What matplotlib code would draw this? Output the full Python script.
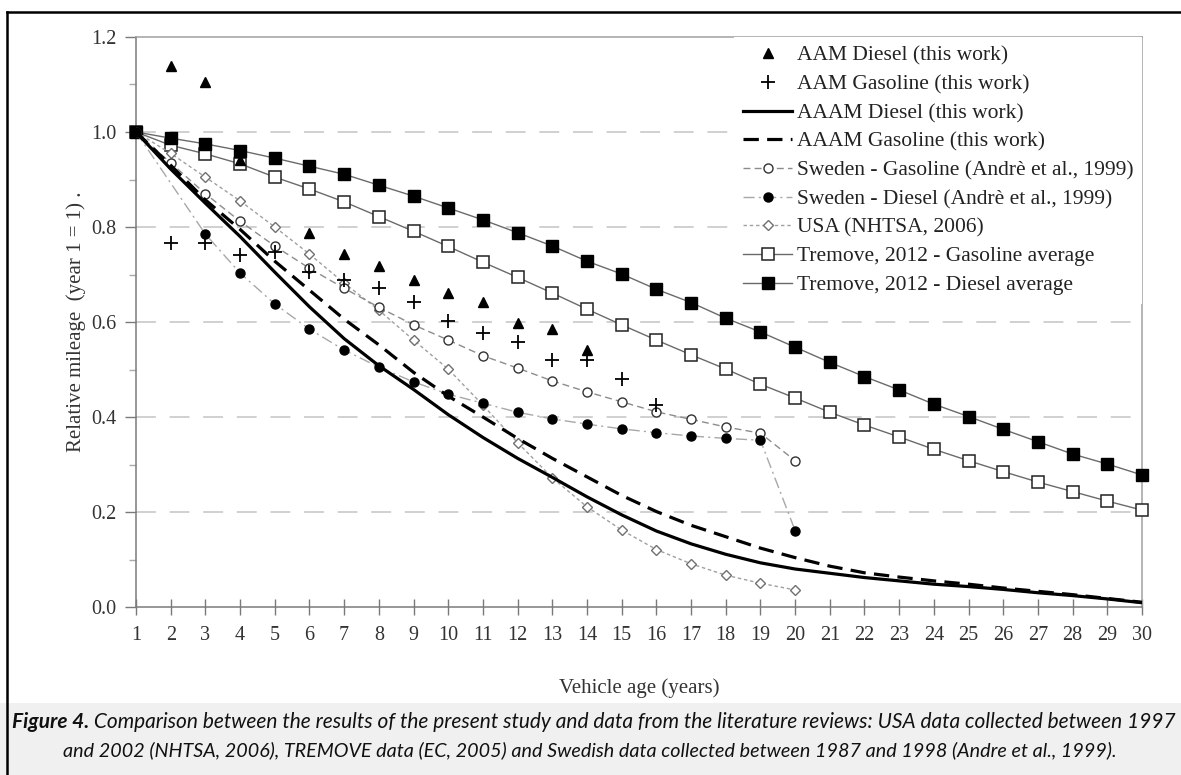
import numpy as np
import matplotlib.pyplot as plt
from matplotlib.lines import Line2D
from matplotlib.patches import Rectangle

# relative mileage (year 1 = 1) read per vehicle age
years = list(range(1, 31))

aam_diesel_x = [2, 3, 4, 6, 7, 8, 9, 10, 11, 12, 13, 14]
aam_diesel_y = [1.140, 1.105, 0.941, 0.787, 0.744, 0.717, 0.688, 0.661, 0.642, 0.598, 0.585, 0.541]

aam_gas_x = [2, 3, 4, 5, 6, 7, 8, 9, 10, 11, 12, 13, 14, 15, 16]
aam_gas_y = [0.766, 0.766, 0.741, 0.747, 0.705, 0.688, 0.671, 0.643, 0.602, 0.577, 0.558, 0.520, 0.520, 0.480, 0.425]

aaam_diesel = [1.0, 0.922, 0.850, 0.780, 0.705, 0.632, 0.565, 0.508, 0.458, 0.405,
               0.357, 0.313, 0.273, 0.232, 0.194, 0.160, 0.133, 0.111, 0.093, 0.080,
               0.071, 0.062, 0.055, 0.048, 0.043, 0.037, 0.030, 0.024, 0.017, 0.009]
aaam_gas = [1.0, 0.930, 0.857, 0.795, 0.728, 0.667, 0.606, 0.552, 0.494, 0.444,
            0.400, 0.355, 0.313, 0.274, 0.235, 0.201, 0.172, 0.148, 0.124, 0.104,
            0.086, 0.072, 0.063, 0.055, 0.048, 0.040, 0.033, 0.026, 0.018, 0.010]

sw_gas_x = list(range(1, 21))
sw_gas_y = [1.0, 0.935, 0.870, 0.812, 0.760, 0.713, 0.671, 0.631, 0.594, 0.562,
            0.529, 0.503, 0.476, 0.453, 0.432, 0.411, 0.395, 0.379, 0.366, 0.308]

sw_dsl_x = [1] + list(range(3, 21))
sw_dsl_y = [1.0, 0.785, 0.703, 0.638, 0.585, 0.541, 0.505, 0.474, 0.448, 0.429,
            0.410, 0.396, 0.385, 0.375, 0.367, 0.360, 0.355, 0.351, 0.161]

usa_x = list(range(1, 21))
usa_y = [1.0, 0.955, 0.905, 0.855, 0.800, 0.743, 0.682, 0.625, 0.562, 0.501,
         0.425, 0.346, 0.272, 0.211, 0.162, 0.121, 0.091, 0.067, 0.050, 0.036]

tre_gas = [1.0, 0.972, 0.954, 0.933, 0.905, 0.880, 0.853, 0.822, 0.791, 0.759,
           0.726, 0.694, 0.661, 0.627, 0.594, 0.562, 0.531, 0.501, 0.469, 0.440,
           0.410, 0.383, 0.358, 0.332, 0.308, 0.285, 0.263, 0.243, 0.223, 0.204]
tre_dsl = [1.0, 0.987, 0.975, 0.961, 0.945, 0.928, 0.911, 0.888, 0.865, 0.840,
           0.815, 0.788, 0.760, 0.728, 0.701, 0.669, 0.641, 0.608, 0.579, 0.547,
           0.515, 0.485, 0.457, 0.427, 0.401, 0.374, 0.348, 0.322, 0.301, 0.278]

labels = ["AAM Diesel (this work)", "AAM Gasoline (this work)",
          "AAAM Diesel (this work)", "AAAM Gasoline (this work)",
          "Sweden - Gasoline (Andrè et al., 1999)", "Sweden - Diesel (Andrè et al., 1999)",
          "USA (NHTSA, 2006)", "Tremove, 2012 - Gasoline average",
          "Tremove, 2012 - Diesel average"]

caption_bold = "Figure 4."
caption_1 = (" Comparison between the results of the present study and data from the "
             "literature reviews: USA data collected between 1997")
caption_2 = ("and 2002 (NHTSA, 2006), TREMOVE data (EC, 2005) and Swedish data collected "
             "between 1987 and 1998 (Andre et al., 1999).")

plt.rcParams['font.family'] = ['Liberation Serif', 'DejaVu Serif']
W, H = 1181, 775
fig = plt.figure(figsize=(W / 100, H / 100), dpi=100)

# caption band and outer frame
fig.patches.append(Rectangle((0, 0), 1, 72 / H, transform=fig.transFigure,
                             facecolor='#f0f0f0', edgecolor='none', zorder=0))
fig.add_artist(Line2D([7 / W, 7 / W], [0, 1 - 12 / H], color='black', lw=1.8, zorder=10))
fig.add_artist(Line2D([7 / W, 1], [1 - 12 / H, 1 - 12 / H], color='black', lw=1.8, zorder=10))

ax = fig.add_axes([136 / W, 168 / H, 1006 / W, 570 / H])
grey = '#7a7a7a'
for y in [0.2, 0.4, 0.6, 0.8, 1.0]:
    ax.axhline(y, color='#c4c4c4', lw=1.1, ls=(0, (13, 9)), zorder=0)

ax.plot(years, tre_gas, color='#6a6a6a', lw=1.0, marker='s', ms=8, mfc='white',
        mec='#222222', mew=1.1, clip_on=False, zorder=3, label=labels[7])
ax.plot(years, tre_dsl, color='#6a6a6a', lw=1.0, marker='s', ms=8, mfc='black',
        mec='black', clip_on=False, zorder=3, label=labels[8])
ax.plot(usa_x, usa_y, color='#a0a0a0', lw=1.0, ls=(0, (2.5, 2)), marker='D', ms=5,
        mfc='white', mec='#707070', mew=1.0, zorder=4, label=labels[6])
ax.plot(sw_gas_x, sw_gas_y, color='#8c8c8c', lw=1.0, ls=(0, (5, 3)), marker='o', ms=6.5,
        mfc='white', mec='#333333', mew=1.0, zorder=4, label=labels[4])
ax.plot(sw_dsl_x, sw_dsl_y, color='#a8a8a8', lw=1.0, ls=(0, (8, 3, 1.5, 3)), marker='o',
        ms=6.5, mfc='black', mec='black', zorder=4, label=labels[5])
ax.plot(years, aaam_diesel, color='black', lw=2.3, zorder=5, label=labels[2])
ax.plot(years, aaam_gas, color='black', lw=2.3, ls=(0, (4.8, 2.6)), zorder=5, label=labels[3])
ax.plot(aam_diesel_x, aam_diesel_y, ls='none', marker='^', ms=6.5, color='black',
        zorder=6, label=labels[0])
ax.plot(aam_gas_x, aam_gas_y, ls='none', marker='+', ms=10, mew=1.3, color='black',
        zorder=6, label=labels[1])

ax.set_xlim(1, 30)
ax.set_ylim(0, 1.2)
ax.set_xticks(years)
ax.set_yticks(np.arange(0, 1.21, 0.2))
ax.set_yticks(np.arange(0.1, 1.2, 0.2), minor=True)
ax.yaxis.set_major_formatter(plt.FormatStrFormatter('%.1f'))
ax.tick_params(axis='x', direction='inout', length=11, width=1.0, color=grey,
               labelsize=14.5, labelcolor='#333333', pad=8)
ax.tick_params(axis='y', which='major', direction='out', length=8, width=1.0, color=grey,
               labelsize=14.5, labelcolor='#333333', pad=6)
ax.tick_params(axis='y', which='minor', direction='out', length=5, width=1.0, color='#aaaaaa')
for s in ax.spines.values():
    s.set_color(grey)
    s.set_linewidth(1.1)
ax.spines['top'].set_color('#a0a0a0')
ax.spines['right'].set_color('#a0a0a0')

ax.set_xlabel("Vehicle age (years)", fontsize=15, color='#333333', labelpad=24)
ax.set_ylabel("Relative mileage  (year 1 = 1) .", fontsize=15, color='#333333', labelpad=4)

h, l = ax.get_legend_handles_labels()
by_label = dict(zip(l, h))
leg = ax.legend([by_label[x] for x in labels], labels, loc='upper right',
                bbox_to_anchor=(1, 1), borderaxespad=0, frameon=True, fancybox=False,
                framealpha=1, edgecolor='none', fontsize=15.5, handlelength=2.3,
                handletextpad=0.2, labelspacing=0.40, borderpad=0.4)
leg.set_zorder(7)
for t in leg.get_texts():
    t.set_color('#222222')

# caption: bold lead-in followed by italic text; each line sized to its width
cap_font = ['Lato', 'DejaVu Sans']
fig.canvas.draw()
r = fig.canvas.get_renderer()
t2 = fig.text(590 / W, 1 - 750 / H, caption_2, fontsize=14, family=cap_font,
              style='italic', ha='center', va='center', color='#111111')
t2.set_fontsize(14 * 1056 / t2.get_window_extent(r).width)

tb = fig.text(0, 1 - 722 / H, caption_bold, fontsize=14, family=cap_font,
              style='italic', weight='bold', va='center', color='#111111')
t1 = fig.text(0, 1 - 722 / H, caption_1, fontsize=14, family=cap_font,
              style='italic', va='center', color='#111111')
scale = 1166 / (tb.get_window_extent(r).width + t1.get_window_extent(r).width)
tb.set_fontsize(14 * scale)
t1.set_fontsize(14 * scale)
wb = tb.get_window_extent(r).width
tb.set_x(12 / W)
t1.set_x((12 + wb) / W)

fig.savefig("out.png", dpi=100)
